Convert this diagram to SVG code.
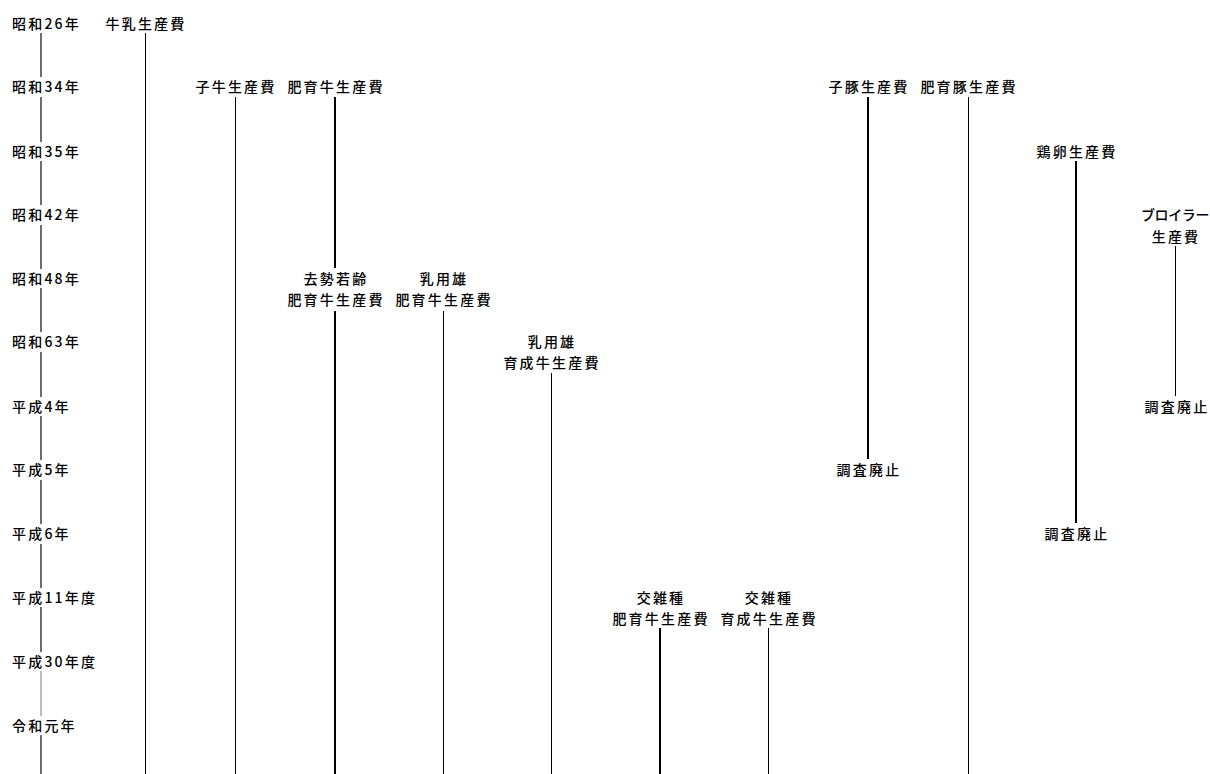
<svg xmlns="http://www.w3.org/2000/svg" width="1210" height="774" viewBox="0 0 1210 774">
<style>
text{font-family:"Noto Sans CJK JP","Noto Sans",sans-serif;font-size:14px;font-weight:500;letter-spacing:2.2px;fill:#000;}
.m{text-anchor:middle;}
.n{letter-spacing:-0.4px;}
.ax{stroke:#6e6e6e;stroke-width:2;}
.axl{stroke:#bdbdbd;stroke-width:2;}
.t{stroke:#000;stroke-width:1;}
.k{stroke:#000;stroke-width:2;}
</style>
<rect width="1210" height="774" fill="#fff"/>
<g id="axis">
<text x="12" y="29">昭和26年</text>
<text x="12" y="92">昭和34年</text>
<text x="12" y="157">昭和35年</text>
<text x="12" y="220">昭和42年</text>
<text x="12" y="284">昭和48年</text>
<text x="12" y="347">昭和63年</text>
<text x="12" y="412">平成4年</text>
<text x="12" y="475">平成5年</text>
<text x="12" y="539">平成6年</text>
<text x="12" y="603">平成11年度</text>
<text x="12" y="667">平成30年度</text>
<text x="12" y="731">令和元年</text>
</g>
<g id="connectors">
<line class="ax" x1="41" y1="33" x2="41" y2="77"/>
<line class="ax" x1="41" y1="97" x2="41" y2="142"/>
<line class="ax" x1="41" y1="161" x2="41" y2="205"/>
<line class="ax" x1="41" y1="225" x2="41" y2="269"/>
<line class="ax" x1="41" y1="288" x2="41" y2="332"/>
<line class="ax" x1="41" y1="352" x2="41" y2="397"/>
<line class="ax" x1="41" y1="416" x2="41" y2="460"/>
<line class="ax" x1="41" y1="480" x2="41" y2="524"/>
<line class="ax" x1="41" y1="544" x2="41" y2="588"/>
<line class="ax" x1="41" y1="607" x2="41" y2="652"/>
<line class="axl" x1="41" y1="671" x2="41" y2="716"/>
<line class="ax" x1="41" y1="735" x2="41" y2="774"/>
<line class="t" x1="145.5" y1="33" x2="145.5" y2="774"/>
<line class="t" x1="235.5" y1="97" x2="235.5" y2="774"/>
<line class="k" x1="335" y1="97" x2="335" y2="268"/>
<line class="k" x1="335" y1="311" x2="335" y2="774"/>
<line class="t" x1="443.5" y1="311" x2="443.5" y2="774"/>
<line class="t" x1="551.5" y1="373" x2="551.5" y2="774"/>
<line class="k" x1="660" y1="628" x2="660" y2="774"/>
<line class="t" x1="768.5" y1="628" x2="768.5" y2="774"/>
<line class="k" x1="868" y1="97" x2="868" y2="459"/>
<line class="t" x1="968.5" y1="97" x2="968.5" y2="774"/>
<line class="k" x1="1076" y1="161" x2="1076" y2="523"/>
<line class="t" x1="1175.5" y1="246" x2="1175.5" y2="396"/>
</g>
<g id="n-gyunyu"><text class="m" x="146" y="29">牛乳生産費</text></g>
<g id="n-koushi"><text class="m" x="236" y="92">子牛生産費</text></g>
<g id="n-ikusei"><text class="m" x="336" y="92">肥育牛生産費</text></g>
<g id="n-kyosei"><text class="m" x="336" y="284">去勢若齢</text><text class="m" x="336" y="305">肥育牛生産費</text></g>
<g id="n-nyuyou-hiiku"><text class="m" x="444" y="284">乳用雄</text><text class="m" x="444" y="305">肥育牛生産費</text></g>
<g id="n-nyuyou-ikusei"><text class="m" x="552" y="347">乳用雄</text><text class="m" x="552" y="368">育成牛生産費</text></g>
<g id="n-kouzatsu-hiiku"><text class="m" x="661" y="603">交雑種</text><text class="m" x="661" y="624">肥育牛生産費</text></g>
<g id="n-kouzatsu-ikusei"><text class="m" x="769" y="603">交雑種</text><text class="m" x="769" y="624">育成牛生産費</text></g>
<g id="n-kobuta"><text class="m" x="869" y="92">子豚生産費</text></g>
<g id="n-hiikubuta"><text class="m" x="969" y="92">肥育豚生産費</text></g>
<g id="n-keiran"><text class="m" x="1077" y="157">鶏卵生産費</text></g>
<g id="n-broiler"><text class="m n" x="1175" y="220">ブロイラー</text><text class="m" x="1176" y="242">生産費</text></g>
<g id="n-end-kobuta"><text class="m" x="869" y="475">調査廃止</text></g>
<g id="n-end-keiran"><text class="m" x="1077" y="539">調査廃止</text></g>
<g id="n-end-broiler"><text class="m" x="1177" y="412">調査廃止</text></g>
</svg>
